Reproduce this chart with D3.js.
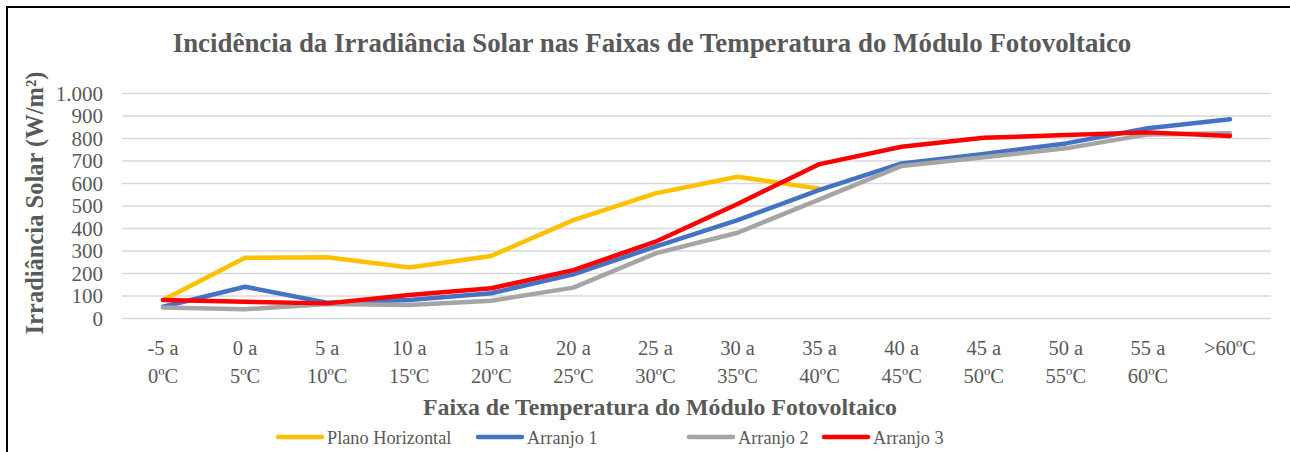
<!DOCTYPE html>
<html><head><meta charset="utf-8">
<script src="https://cdn.jsdelivr.net/npm/d3@7"></script>
<style>body{margin:0;background:#fff}svg{display:block}text{font-family:"Liberation Serif";}</style>
</head><body>
<svg id="c" width="1290" height="452"></svg>
<script>
const categories = ["-5 a|0ºC","0 a|5ºC","5 a|10ºC","10 a|15ºC","15 a|20ºC","20 a|25ºC","25 a|30ºC","30 a|35ºC","35 a|40ºC","40 a|45ºC","45 a|50ºC","50 a|55ºC","55 a|60ºC",">60ºC"];
const planoHorizontal = [80,268,270,224,276,435,554,628,574];
const arranjo1 = [50,139,68,80,110,194,317,435,569,687,729,776,843,883];
const arranjo2 = [47,39,62,58,77,135,287,379,527,676,714,754,816,821];
const arranjo3 = [80,72,65,102,132,213,339,507,684,761,801,813,825,809];
const yTicks = [0,100,200,300,400,500,600,700,800,900,1000];
const seriesNames = ["Plano Horizontal","Arranjo 1","Arranjo 2","Arranjo 3"];
const seriesColors = ["#FFC000","#4472C4","#A5A5A5","#FF0000"];
const seriesData = [planoHorizontal, arranjo1, arranjo2, arranjo3];

const svg = d3.select("#c");
const textColor = "#595959";

// frame
svg.append("line").attr("x1",7).attr("x2",1290).attr("y1",7).attr("y2",7).attr("stroke","#000").attr("stroke-width",2);
svg.append("line").attr("x1",7).attr("x2",7).attr("y1",6).attr("y2",452).attr("stroke","#000").attr("stroke-width",2);

const x = d3.scaleBand().domain(categories).range([122,1271]);
const y = d3.scaleLinear().domain([0,1000]).range([318,93]);

// title
svg.append("text").attr("x",652).attr("y",52).attr("text-anchor","middle")
  .attr("font-weight","bold").attr("font-size",26.9).attr("fill",textColor)
  .text("Incidência da Irradiância Solar nas Faixas de Temperatura do Módulo Fotovoltaico");

// grid
const yAxis = d3.axisLeft(y).tickValues(yTicks).tickSize(-(1271-122)).tickPadding(19)
  .tickFormat(d => d3.format(",")(d).replace(/,/g,"."));
const gy = svg.append("g").attr("transform","translate(122,0)").call(yAxis);
gy.select(".domain").remove();
gy.attr("font-family",null);
gy.selectAll(".tick line").attr("stroke","#D9D9D9").attr("stroke-width",1.5);
gy.selectAll(".tick text").attr("font-size",21).attr("fill",textColor).attr("dy","0.34em");

// x axis labels
const gx = svg.append("g").attr("transform","translate(0,318)")
  .call(d3.axisBottom(x).tickSize(0).tickFormat(""));
gx.attr("font-family",null);
gx.select(".domain").remove();
gx.selectAll(".tick").each(function(d){
  const parts = d.split("|");
  const t = d3.select(this).append("text").attr("font-size",20.5)
    .attr("fill",textColor).attr("text-anchor","middle");
  parts.forEach((p,i)=>t.append("tspan").attr("x",0).attr("y",37+i*28).text(p));
});

// axis titles
svg.append("text").attr("x",660).attr("y",415).attr("text-anchor","middle")
  .attr("font-weight","bold").attr("font-size",23.8).attr("fill",textColor)
  .text("Faixa de Temperatura do Módulo Fotovoltaico");
svg.append("text").attr("transform","translate(43,203) rotate(-90)").attr("text-anchor","middle")
  .attr("font-weight","bold").attr("font-size",24.5).attr("fill",textColor)
  .text("Irradiância Solar (W/m²)");

// lines
const line = d3.line().x((d,i)=>x(categories[i])+x.bandwidth()/2).y(d=>y(d));
seriesData.forEach((s,k)=>{
  svg.append("path").datum(s).attr("d",line).attr("fill","none")
    .attr("stroke",seriesColors[k]).attr("stroke-width",4.5)
    .attr("stroke-linejoin","round").attr("stroke-linecap","round");
});

// legend
const legendX = [277,477,688,823];
seriesNames.forEach((n,k)=>{
  const g = svg.append("g").attr("transform",`translate(${legendX[k]},437)`);
  g.append("line").attr("x1",1).attr("x2",45).attr("y1",0).attr("y2",0)
    .attr("stroke",seriesColors[k]).attr("stroke-width",4.5).attr("stroke-linecap","round");
  g.append("text").attr("x",50).attr("y",6.5).attr("font-size",18.3)
    .attr("fill",textColor).text(n);
});
</script>
</body></html>
